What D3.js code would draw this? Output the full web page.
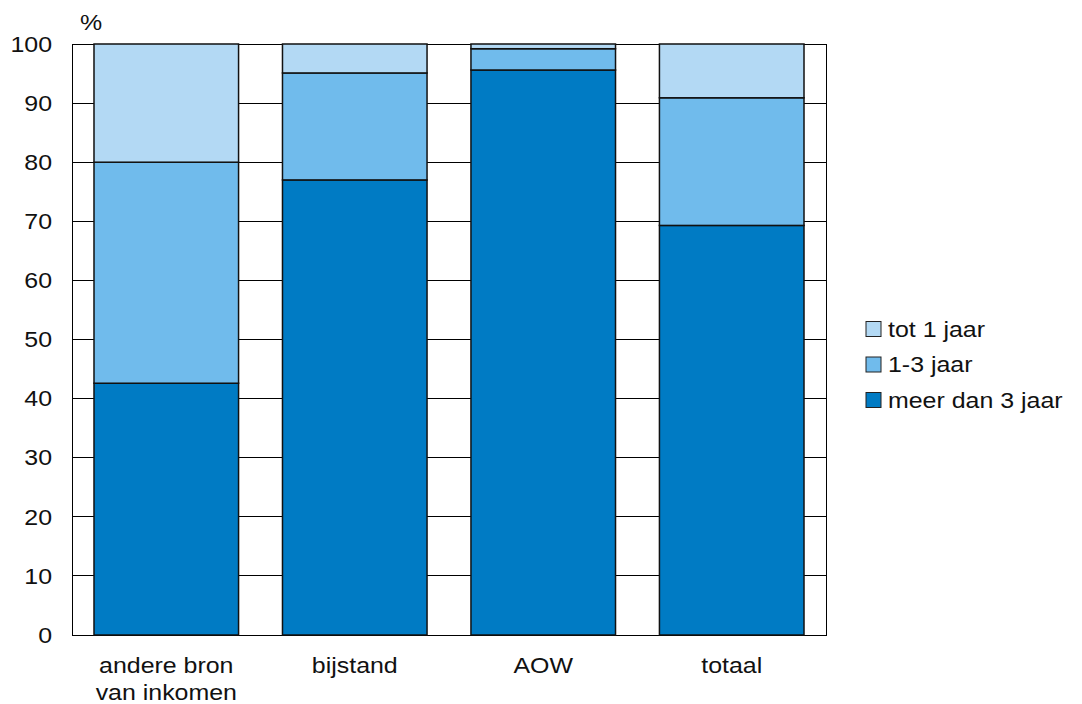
<!DOCTYPE html>
<html><head><meta charset="utf-8">
<script src="https://cdn.jsdelivr.net/npm/d3@7"></script>
<style>body{margin:0;background:#fff}svg{display:block;font-family:"Liberation Sans",Arial,sans-serif}</style>
</head><body><svg id="c" width="1082" height="704"></svg>
<script>
const categories = ["andere bron\nvan inkomen", "bijstand", "AOW", "totaal"];
const seriesNames = ["meer dan 3 jaar", "1-3 jaar", "tot 1 jaar"];
const meerDan3 = [42.6, 77.0, 95.6, 69.3];
const een3 = [37.4, 18.1, 3.6, 21.6];
const tot1 = [20.0, 4.9, 0.8, 9.1];
const yTicks = [0,10,20,30,40,50,60,70,80,90,100];
const colors = ["#007bc4", "#70bbec", "#b3d9f4"];

const svg = d3.select("#c");
const L = 72, R = 826, T = 44, B = 635;
const FS = 21.5, SX = 1.16;
const x = d3.scaleBand().domain(categories).range([L, R]).paddingInner(0.233).paddingOuter(0.1167);
const y = d3.scaleLinear().domain([0, 100]).range([B, T]);

function stretchedText(g, px, py, txt, anchor) {
  return g.append("text")
    .attr("transform", `translate(${px},${py}) scale(${SX},1)`)
    .attr("text-anchor", anchor || "start")
    .attr("font-size", FS).attr("fill", "#111").text(txt);
}

// grid
svg.append("g").selectAll("line").data(yTicks).join("line")
  .attr("x1", L).attr("x2", R).attr("y1", d => y(d)).attr("y2", d => y(d))
  .attr("stroke", "#000").attr("stroke-width", 1).attr("shape-rendering", "crispEdges");

// border
svg.append("rect").attr("x", L).attr("y", T).attr("width", R - L).attr("height", B - T)
  .attr("fill", "none").attr("stroke", "#000").attr("stroke-width", 1).attr("shape-rendering", "crispEdges");

const rows = categories.map((c, i) => ({cat: c, "meer dan 3 jaar": meerDan3[i], "1-3 jaar": een3[i], "tot 1 jaar": tot1[i]}));
const stack = d3.stack().keys(seriesNames)(rows);

svg.append("g").selectAll("g").data(stack).join("g")
  .attr("fill", (d, i) => colors[i])
  .selectAll("rect").data(d => d).join("rect")
  .attr("x", d => x(d.data.cat)).attr("width", x.bandwidth())
  .attr("y", d => y(d[1])).attr("height", d => y(d[0]) - y(d[1]))
  .attr("stroke", "#111").attr("stroke-width", 1.5);

// y axis labels
const yg = svg.append("g");
yTicks.forEach(t => stretchedText(yg, 52, y(t) + 7.7, t, "end"));
stretchedText(svg, 80, 30, "%");

// x labels
const xg = svg.append("g");
categories.forEach(c => {
  c.split("\n").forEach((line, j) => {
    stretchedText(xg, x(c) + x.bandwidth() / 2, 673 + j * 27, line, "middle");
  });
});

// legend
const legendItems = ["tot 1 jaar", "1-3 jaar", "meer dan 3 jaar"];
const legendColors = [colors[2], colors[1], colors[0]];
const lgRoot = svg.append("g");
legendItems.forEach((d, i) => {
  const gy = 321.5 + i * 35.5;
  lgRoot.append("rect").attr("x", 866).attr("y", gy).attr("width", 15).attr("height", 15)
    .attr("fill", legendColors[i]).attr("stroke", "#222").attr("stroke-width", 1);
  stretchedText(lgRoot, 888, gy + 15.2, d);
});
</script></body></html>
